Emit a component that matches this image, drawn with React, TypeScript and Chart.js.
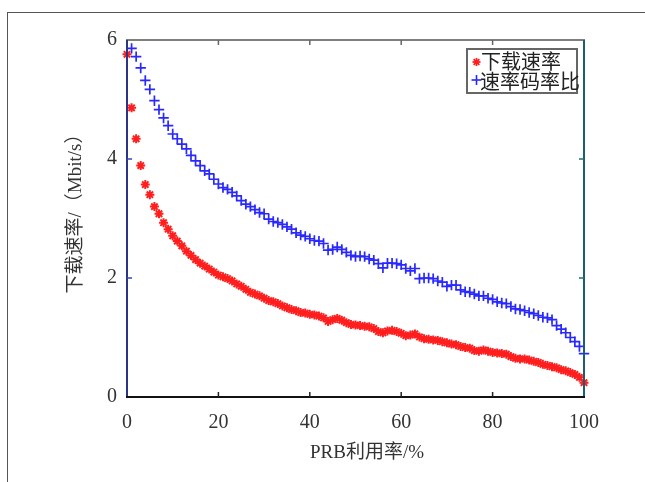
import { useEffect, useRef } from "react";
import { Chart, registerables } from "chart.js";
Chart.register(...registerables);

// PRB utilisation (%) for each sample
const prbUtil = [
  0, 1, 2, 3, 4, 5, 6, 7, 8, 9, 10, 11, 12, 13, 14, 15, 16, 17, 18, 19,
  20, 21, 22, 23, 24, 25, 26, 27, 28, 29, 30, 31, 32, 33, 34, 35, 36, 37, 38, 39,
  40, 41, 42, 43, 44, 45, 46, 47, 48, 49, 50, 51, 52, 53, 54, 55, 56, 57, 58, 59,
  60, 61, 62, 63, 64, 65, 66, 67, 68, 69, 70, 71, 72, 73, 74, 75, 76, 77, 78, 79,
  80, 81, 82, 83, 84, 85, 86, 87, 88, 89, 90, 91, 92, 93, 94, 95, 96, 97, 98, 99, 100,
];

// 下载速率 (x = 0..100)
const downloadRate = [
  5.76, 4.86, 4.34, 3.89, 3.57, 3.4, 3.2, 3.08, 2.93, 2.82,
  2.71, 2.62, 2.54, 2.45, 2.38, 2.31, 2.25, 2.2, 2.15, 2.1,
  2.05, 2.02, 1.99, 1.95, 1.9, 1.86, 1.81, 1.76, 1.73, 1.7,
  1.66, 1.62, 1.6, 1.57, 1.53, 1.5, 1.47, 1.45, 1.42, 1.41,
  1.39, 1.38, 1.36, 1.33, 1.27, 1.3, 1.32, 1.29, 1.25, 1.22,
  1.21, 1.2, 1.19, 1.18, 1.15, 1.1, 1.08, 1.11, 1.12, 1.1,
  1.07, 1.03, 1.04, 1.06, 1.01, 0.98, 0.97, 0.96, 0.95, 0.93,
  0.91, 0.89, 0.88, 0.85, 0.83, 0.82, 0.78, 0.77, 0.79, 0.77,
  0.75, 0.74, 0.73, 0.72, 0.68, 0.65, 0.64, 0.64, 0.62, 0.6,
  0.58, 0.55, 0.53, 0.51, 0.49, 0.46, 0.44, 0.41, 0.38, 0.33, 0.24,
];

// 速率码率比 (x = 1..100)
const rateRatio = [
  5.86, 5.72, 5.53, 5.32, 5.17, 4.98, 4.83, 4.69, 4.56, 4.42,
  4.34, 4.25, 4.17, 4.06, 3.97, 3.89, 3.8, 3.75, 3.66, 3.58,
  3.52, 3.49, 3.44, 3.38, 3.3, 3.24, 3.2, 3.15, 3.1, 3.08,
  2.99, 2.95, 2.93, 2.9, 2.86, 2.82, 2.76, 2.72, 2.7, 2.66,
  2.63, 2.62, 2.58, 2.47, 2.48, 2.52, 2.48, 2.43, 2.38, 2.36,
  2.37, 2.36, 2.32, 2.3, 2.24, 2.17, 2.25, 2.25, 2.24, 2.22,
  2.16, 2.12, 2.16, 1.99, 2.0, 2.0, 1.99, 1.95, 1.93, 1.86,
  1.88, 1.88, 1.8, 1.77, 1.76, 1.73, 1.7, 1.7, 1.66, 1.64,
  1.6, 1.58, 1.57, 1.52, 1.48, 1.47, 1.45, 1.42, 1.4, 1.37,
  1.34, 1.33, 1.3, 1.2, 1.14, 1.08, 1.0, 0.93, 0.85, 0.73,
];

const xTickValues = [0, 20, 40, 60, 80, 100];
const yTickValues = [0, 2, 4, 6];
const seriesNames = ["下载速率", "速率码率比"];
const xTitle = "PRB利用率/%";
const yTitle = "下载速率/（Mbit/s）";

const SERIF = "'Liberation Serif', 'DejaVu Serif', 'Noto Sans CJK SC', serif";
const RED = "rgb(255,30,30)";
const BLUE = "rgb(40,40,255)";

const framePlugin = {
  id: "matlabFrame",
  afterDraw(chart: any) {
    const { ctx, chartArea: a, scales } = chart;
    const xs = scales.x;
    const ys = scales.y;
    ctx.save();
    const line = (x1: number, y1: number, x2: number, y2: number, c: string, w: number) => {
      ctx.strokeStyle = c;
      ctx.lineWidth = w;
      ctx.beginPath();
      ctx.moveTo(x1, y1);
      ctx.lineTo(x2, y2);
      ctx.stroke();
    };
    line(a.left - 1, a.top, a.right + 1, a.top, "#555", 1.5);
    line(a.left, a.top, a.left, a.bottom, "#2b3585", 2);
    line(a.right, a.top, a.right, a.bottom, "#1d5f70", 2);
    line(a.left - 1, a.bottom, a.right + 1, a.bottom, "#111", 2);
    for (const v of xTickValues.slice(1, -1)) {
      const px = xs.getPixelForValue(v);
      line(px, a.bottom, px, a.bottom - 5, "#222", 1.5);
      line(px, a.top, px, a.top + 5, "#666", 1.5);
    }
    for (const v of yTickValues.slice(1, -1)) {
      const py = ys.getPixelForValue(v);
      line(a.left, py, a.left + 5, py, "#3344cc", 1.5);
      line(a.right, py, a.right - 5, py, "#1d6f70", 1.5);
    }
    ctx.fillStyle = "#333";
    ctx.textAlign = "center";
    ctx.textBaseline = "middle";
    ctx.font = `19px ${SERIF}`;
    ctx.fillText(xTitle, 367, 453);
    ctx.save();
    ctx.translate(76, 209);
    ctx.rotate(-Math.PI / 2);
    ctx.font = `19px ${SERIF}`;
    ctx.fillText(yTitle, 0, 0);
    ctx.restore();
    const lx = 467, ly = 49, lw = 110, lh = 44;
    ctx.fillStyle = "#fff";
    ctx.fillRect(lx, ly, lw, lh);
    ctx.strokeStyle = "#666";
    ctx.lineWidth = 2;
    ctx.strokeRect(lx, ly, lw, lh);
    ctx.font = `20px ${SERIF}`;
    ctx.fillStyle = "#222";
    ctx.textAlign = "left";
    ctx.fillText(seriesNames[0], 481, 64);
    ctx.fillText(seriesNames[1], 480, 84);
    const r = 4;
    for (let k = 0; k < 4; k++) {
      const ang = (k * Math.PI) / 4;
      line(476.5 - r * Math.cos(ang), 62 - r * Math.sin(ang), 476.5 + r * Math.cos(ang), 62 + r * Math.sin(ang), RED, 1.8);
    }
    line(471.5, 80, 481.5, 80, BLUE, 1.6);
    line(476.5, 75, 476.5, 85, BLUE, 1.6);
    ctx.restore();
  },
};

export default function App() {
  const ref = useRef<HTMLCanvasElement>(null);
  useEffect(() => {
    if (!ref.current) return;
    const chart = new Chart(ref.current, {
      type: "scatter",
      data: {
        datasets: [
          {
            label: seriesNames[0],
            data: downloadRate.map((v, i) => ({ x: prbUtil[i], y: v })),
            pointStyle: "star",
            pointRadius: 4.5,
            borderColor: RED,
            backgroundColor: RED,
            pointBorderWidth: 2,
            clip: false,
          },
          {
            label: seriesNames[1],
            data: rateRatio.map((v, i) => ({ x: prbUtil[i + 1], y: v })),
            pointStyle: "cross",
            pointRadius: 5.2,
            borderColor: BLUE,
            backgroundColor: BLUE,
            pointBorderWidth: 1.7,
            clip: false,
          },
        ],
      },
      options: {
        responsive: false,
        animation: false,
        layout: { padding: { top: 40, right: 61, left: 0, bottom: 0 } },
        plugins: { legend: { display: false }, tooltip: { enabled: false } },
        scales: {
          x: {
            type: "linear",
            min: 0,
            max: 100,
            afterBuildTicks: (s: any) => {
              s.ticks = xTickValues.map((v) => ({ value: v }));
            },
            afterFit: (s: any) => {
              s.height = 85;
            },
            grid: { display: false, drawTicks: false },
            border: { display: false },
            ticks: {
              padding: 14,
              color: "#333",
              font: { family: SERIF, size: 20 },
            },
          },
          y: {
            type: "linear",
            min: 0,
            max: 6,
            afterBuildTicks: (s: any) => {
              s.ticks = yTickValues.map((v) => ({ value: v }));
            },
            afterFit: (s: any) => {
              s.width = 127;
            },
            grid: { display: false, drawTicks: false },
            border: { display: false },
            ticks: {
              padding: 10,
              color: "#333",
              font: { family: SERIF, size: 20 },
            },
          },
        },
      },
      plugins: [framePlugin],
    });
    return () => chart.destroy();
  }, []);
  return (
    <div style={{ position: "fixed", left: 0, top: 0, width: 645, height: 482, overflow: "hidden", background: "#fff" }}>
      <div
        style={{
          position: "absolute",
          left: 7,
          top: 12,
          width: 700,
          height: 600,
          borderLeft: "1.5px solid #555",
          borderTop: "1.5px solid #555",
        }}
      />
      <canvas ref={ref} width={645} height={482} style={{ position: "absolute", left: 0, top: 0 }} />
    </div>
  );
}
